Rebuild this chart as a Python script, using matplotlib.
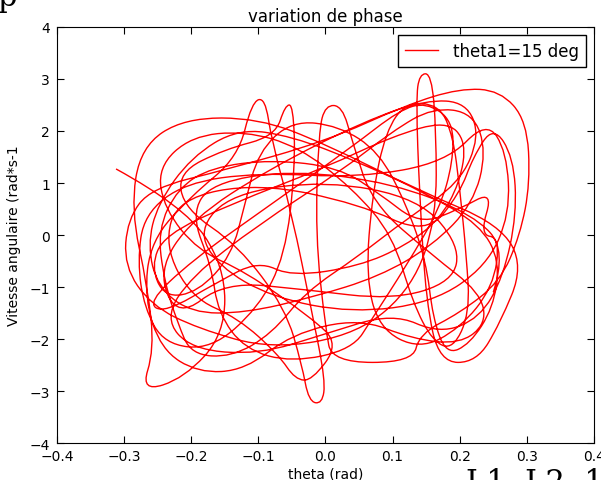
import matplotlib
matplotlib.use("Agg")
import matplotlib.pyplot as plt
import numpy as np
from matplotlib.path import Path
from matplotlib.patches import PathPatch
from matplotlib.lines import Line2D

# control polygon of the phase trajectory
# (theta in rad, angular velocity in rad/s), one row per loop
theta_ctrl = [
    -0.312, -0.21, -0.15, -0.15, -0.21, -0.275, -0.255, -0.265, -0.29, -0.275, -0.21, -0.10,
    0.00, 0.14, 0.26, 0.295, 0.26, 0.225, 0.17, 0.15, 0.14, 0.135, 0.14, 0.158,
    0.165, 0.165, 0.13, 0.05, -0.08, -0.19, -0.26, -0.30, -0.295,
    -0.26, -0.15, 0.00, 0.12, 0.20, 0.26, 0.30, 0.305, 0.29, 0.26, 0.20,
    0.14, 0.13, 0.01, 0.00, -0.015, -0.01, 0.00, 0.025, 0.04,
    0.07, 0.16, 0.23, 0.24, 0.20, 0.13, 0.05,
    -0.05, -0.12, -0.19, -0.245, -0.27, -0.26, -0.20, -0.13, -0.11, -0.09, -0.08,
    -0.05, -0.02, 0.00, -0.005, -0.025, -0.035, -0.06, -0.13,
    -0.21, -0.22, -0.15, -0.075, -0.06, -0.048, -0.045,
    -0.06, -0.10, -0.17, -0.24, -0.27, -0.28, -0.27, -0.21,
    -0.10, 0.05, 0.18, 0.24, 0.27, 0.275, 0.24, 0.16, 0.04, -0.08,
    -0.16, -0.19, -0.14, 0.00, 0.14, 0.20, 0.19, 0.10, -0.03,
    -0.15, -0.22, -0.25, -0.20, -0.08, 0.06, 0.15, 0.21, 0.23, 0.20,
    0.12, 0.05, -0.03, -0.08, -0.14, -0.20, -0.22,
    -0.24, -0.25, -0.22, -0.17, -0.08, 0.02, 0.08,
    0.14, 0.20, 0.25, 0.23, 0.26, 0.25, 0.20, 0.14, 0.08,
    0.06, 0.07, 0.09, 0.12, 0.17, 0.19, 0.20,
    0.21, 0.215, 0.19, 0.16, 0.13, 0.10,
    0.04, -0.04, -0.12, -0.20, -0.25, -0.24,
    -0.19, -0.12, -0.02, 0.02, -0.02, -0.045, -0.07, -0.13, -0.20,
    -0.24, -0.22, -0.10, 0.05, 0.15, 0.20, 0.22,
    0.25, 0.28, 0.285, 0.265, 0.23, 0.17, 0.10,
    0.00, -0.10, -0.20, -0.24, -0.20, -0.10, 0.02, 0.10, 0.16, 0.22, 0.24,
    0.22, 0.16, 0.08, -0.02, -0.12, -0.20, -0.25,
    -0.265, -0.25, -0.20, -0.13, -0.05, 0.05, 0.15, 0.23, 0.26,
    0.25, 0.215, 0.18, 0.16, 0.15, 0.12,
    0.08, 0.02, -0.05, -0.10, -0.12, -0.14, -0.19, -0.24,
    -0.26, -0.24, -0.14, 0.00, 0.10, 0.18, 0.21, 0.20, 0.17,
    0.12, 0.05, -0.05, -0.10,
    -0.16, -0.24, -0.265, -0.20, -0.08, 0.04, 0.11, 0.15, 0.19, 0.19, 0.17,
    0.12, 0.07, 0.04, -0.05, -0.12, -0.16, -0.17,
    -0.20, -0.17, -0.05, 0.10, 0.22, 0.27, 0.25,
]
omega_ctrl = [
    1.27, 0.55, -0.60, -1.90, -2.75, -3.02, -2.20, -1.00, 0.50, 1.70, 2.25, 2.25,
    1.75, 0.85, 0.20, -0.60, -1.70, -2.45, -2.45, -1.30, 0.80, 2.60, 3.10, 3.10,
    2.00, 0.30, -1.00, -1.90, -2.20, -1.80, -1.35, -0.60, 0.30,
    0.90, 1.25, 1.80, 2.50, 2.82, 2.78, 2.20, 1.00, 0.00, -0.90, -1.50,
    -1.90, -2.45, -2.45, -1.80, 0.00, 2.00, 2.50, 2.48, 1.80,
    0.60, -0.40, -1.10, -1.70, -2.10, -2.00, -1.60,
    -1.90, -2.60, -2.65, -2.20, -1.20, -0.10, 0.75, 1.50, 2.55, 2.65, 1.80,
    0.40, -1.50, -2.80, -3.25, -3.20, -2.50, -1.40, -0.20,
    0.50, 1.20, 1.65, 1.90, 2.50, 2.50, 1.30,
    -0.40, -1.40, -2.20, -2.10, -1.40, -0.50, 0.40, 1.00,
    1.20, 1.10, 1.40, 2.20, 1.60, 0.40, -0.60, -1.30, -1.50, -1.20,
    -0.60, 0.10, 0.80, 1.05, 0.70, -0.20, -0.90, -1.25, -1.05,
    -0.90, -1.60, -0.70, 0.30, 1.30, 2.20, 2.60, 2.55, 1.90, 1.00,
    0.30, -0.40, -1.10, -1.90, -2.35, -2.30, -1.70,
    -0.90, 0.10, 0.90, 1.30, 1.45, 1.30, 0.80,
    0.20, 0.50, 0.85, 0.00, -0.05, -1.00, -1.80, -2.20, -1.80,
    -0.80, 0.80, 2.00, 2.55, 2.50, 1.90, 0.90,
    -0.40, -1.50, -2.20, -2.05, -1.30, 0.00,
    0.90, 1.70, 2.00, 1.90, 1.30, 0.50,
    -0.30, -0.70, -1.60, -2.10, -2.80, -2.78, -2.30, -1.60, -1.20,
    -0.20, 0.70, 1.00, 0.60, 0.00, 0.80, 1.50,
    2.10, 1.50, 0.40, -0.80, -1.60, -1.90, -1.50,
    -1.90, -2.30, -2.20, -1.60, -0.80, 0.20, 1.20, 2.00, 2.45, 2.35, 1.60,
    0.60, -0.20, -0.80, -1.20, -1.50, -1.50, -1.00,
    -0.20, 0.60, 1.50, 2.05, 1.90, 1.40, 0.80, 0.20, -0.50,
    -1.40, -2.10, -2.30, -1.60, -0.50, 0.60,
    1.60, 2.10, 2.20, 1.60, 0.60, -0.40, -1.10, -1.20,
    -0.60, 0.00, 0.60, 1.30, 1.90, 2.20, 1.80, 1.00, 0.30,
    -0.20, -0.60, -0.80, -0.50,
    -0.90, -1.50, -1.30, -0.50, 0.60, 1.70, 2.40, 2.55, 2.20, 1.40, 0.50,
    -0.60, -1.60, -2.20, -2.45, -2.20, -1.50, -0.60,
    0.40, 1.00, 1.25, 1.00, 0.40, -0.30, -1.10,
]

x_ticks = [-0.4, -0.3, -0.2, -0.1, 0.0, 0.1, 0.2, 0.3, 0.4]
y_ticks = [-4, -3, -2, -1, 0, 1, 2, 3, 4]

fig = plt.figure(figsize=(6.01, 4.81), dpi=100)
ax = fig.add_axes([0.0948, 0.0769, 0.8935, 0.8649])

# smooth curve: quadratic bezier pieces, on-curve points halfway between controls
ctrl = np.column_stack([theta_ctrl, omega_ctrl])
verts = [ctrl[0]]
codes = [Path.MOVETO]
n = len(ctrl)
for i in range(1, n - 1):
    end = ctrl[i + 1] if i == n - 2 else (ctrl[i] + ctrl[i + 1]) / 2
    verts += [ctrl[i], end]
    codes += [Path.CURVE3, Path.CURVE3]
ax.add_patch(PathPatch(Path(verts, codes), fc='none', ec='red', lw=1.0))

ax.set_xlim(-0.4, 0.4)
ax.set_ylim(-4, 4)
ax.set_xticks(x_ticks)
ax.set_yticks(y_ticks)
ax.tick_params(direction='in', top=True, right=True, length=5, width=0.8,
               labelsize=10)
ax.tick_params(axis='x', pad=4)
ax.tick_params(axis='y', pad=5)
ax.set_title('variation de phase', fontsize=12, pad=4)
ax.set_xlabel('theta (rad)', fontsize=10, labelpad=3)
ax.set_ylabel('Vitesse angulaire (rad*s-1', fontsize=10, labelpad=6)

handle = Line2D([], [], color='red', lw=1.0)
leg = ax.legend([handle], ['theta1=15 deg'], loc='upper right', fontsize=12,
                fancybox=False, framealpha=1, edgecolor='black',
                handlelength=2.0, handletextpad=0.9, borderaxespad=0.5)
leg.get_frame().set_linewidth(1.0)

# bits of the surrounding document caught in the screenshot
fig.text(-0.004, 0.988, 'p', family='DejaVu Serif', fontsize=22, va='baseline')
fig.text(0.775, 0.028, 'L1, L2, 1', family='DejaVu Serif', fontsize=22, va='top')

fig.savefig('out.png', dpi=100)
